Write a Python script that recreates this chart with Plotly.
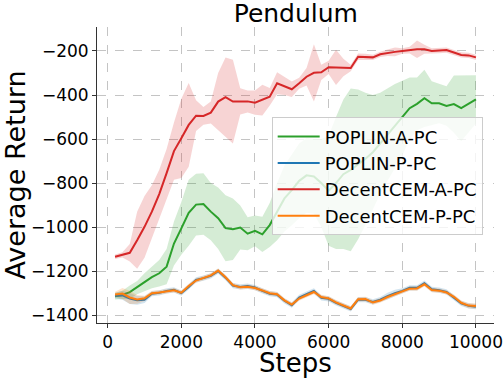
import numpy as np
import plotly.graph_objects as go

# training steps (every 200 steps)
steps = list(range(200, 10001, 200))

poplin_a_mean = [-1314, -1309, -1296, -1275, -1250, -1228, -1210, -1180, -1075, -1006,
                 -935, -898, -895, -930, -960, -1005, -1010, -1002, -1030, -1017,
                 -1033, -991, -930, -870, -832, -790, -765, -770, -800, -835,
                 -800, -760, -740, -715, -690, -660, -620, -580, -540, -505,
                 -460, -440, -415, -438, -438, -450, -441, -460, -440, -420]
poplin_a_std = [15, 20, 30, 30, 40, 50, 60, 80, 100, 120,
                150, 140, 140, 130, 140, 150, 140, 100, 75, 70,
                80, 100, 130, 150, 160, 170, 170, 170, 200, 250,
                300, 340, 370, 340, 300, 260, 230, 210, 190, 170,
                140, 120, 130, 100, 90, 90, 130, 150, 130, 110]

poplin_p_mean = [-1312, -1310, -1325, -1333, -1330, -1303, -1299, -1290, -1285, -1300,
                 -1272, -1240, -1232, -1222, -1200, -1230, -1266, -1272, -1268, -1275,
                 -1290, -1303, -1307, -1335, -1355, -1320, -1305, -1290, -1322, -1326,
                 -1345, -1358, -1372, -1330, -1330, -1340, -1330, -1314, -1300, -1290,
                 -1276, -1276, -1255, -1283, -1287, -1295, -1320, -1347, -1358, -1362]
poplin_p_std = [12, 20, 25, 20, 15, 12, 12, 12, 12, 12,
                12, 12, 12, 12, 12, 12, 12, 12, 12, 12,
                12, 12, 12, 12, 12, 12, 12, 12, 12, 12,
                12, 12, 12, 12, 12, 12, 12, 15, 15, 12,
                12, 12, 12, 12, 12, 12, 12, 12, 12, 12]

decent_a_mean = [-1135, -1126, -1117, -1060, -999, -930, -850, -755, -655, -597,
                 -536, -494, -495, -480, -430, -410, -430, -429, -429, -435,
                 -423, -408, -347, -360, -374, -347, -317, -299, -297, -274,
                 -274, -275, -277, -226, -227, -229, -215, -208, -204, -200,
                 -196, -192, -192, -200, -198, -196, -207, -218, -220, -229]
decent_a_std = [10, 12, 40, 130, 140, 120, 110, 110, 130, 180,
                190, 70, 40, 50, 130, 180, 190, 60, 50, 55,
                70, 40, 50, 40, 35, 25, 40, 130, 35, 30,
                80, 40, 15, 15, 15, 12, 12, 15, 20, 12,
                15, 40, 20, 12, 12, 12, 12, 12, 12, 12]

decent_p_mean = [-1306, -1302, -1320, -1329, -1324, -1301, -1297, -1292, -1287, -1298,
                 -1268, -1243, -1230, -1220, -1198, -1228, -1264, -1274, -1271, -1277,
                 -1288, -1301, -1305, -1333, -1352, -1325, -1310, -1295, -1318, -1324,
                 -1342, -1356, -1370, -1328, -1327, -1343, -1334, -1318, -1305, -1294,
                 -1280, -1279, -1260, -1286, -1289, -1297, -1317, -1344, -1357, -1359]
decent_p_std = [12, 25, 30, 20, 12, 10, 10, 10, 10, 10,
                10, 10, 10, 10, 10, 10, 10, 10, 10, 10,
                10, 10, 10, 10, 10, 10, 10, 10, 10, 10,
                10, 10, 10, 10, 10, 10, 10, 10, 10, 10,
                10, 10, 10, 10, 10, 10, 10, 10, 12, 12]

series = [
    ("POPLIN-A-PC", poplin_a_mean, poplin_a_std, "#2ca02c", "rgba(44,160,44,0.2)"),
    ("POPLIN-P-PC", poplin_p_mean, poplin_p_std, "#1f77b4", "rgba(31,119,180,0.2)"),
    ("DecentCEM-A-PC", decent_a_mean, decent_a_std, "#d62728", "rgba(214,39,40,0.2)"),
    ("DecentCEM-P-PC", decent_p_mean, decent_p_std, "#ff7f0e", "rgba(255,127,14,0.2)"),
]

fig = go.Figure()
for name, mean, std, color, fill in series:
    m = np.array(mean)
    s = np.array(std)
    fig.add_trace(go.Scatter(x=steps, y=m + s, mode="lines", line=dict(width=0),
                             showlegend=False, hoverinfo="skip"))
    fig.add_trace(go.Scatter(x=steps, y=m - s, mode="lines", line=dict(width=0),
                             fill="tonexty", fillcolor=fill,
                             showlegend=False, hoverinfo="skip"))
    fig.add_trace(go.Scatter(x=steps, y=m, mode="lines", name=name,
                             line=dict(color=color, width=2)))

axis_style = dict(
    showgrid=True, gridcolor="#c4c4c4", griddash="dash", gridwidth=1,
    zeroline=False, showline=True, linecolor="#333333", linewidth=1,
    ticks="outside", ticklen=4, tickcolor="#333333",
    tickfont=dict(size=17, color="black"), mirror=False, automargin=False,
)

fig.update_layout(
    width=504, height=378,
    margin=dict(l=97, r=10, t=27, b=55),
    paper_bgcolor="white", plot_bgcolor="white",
    font=dict(family="DejaVu Sans", color="black"),
    title=dict(text="Pendulum", x=0.587, xanchor="center", y=0.965, yanchor="middle",
               font=dict(size=25)),
    xaxis=dict(axis_style, range=[-290, 10490], tickvals=[0, 2000, 4000, 6000, 8000, 10000],
               tickformat="d"),
    yaxis=dict(axis_style, range=[-1436, -91], tickvals=[-1400, -1200, -1000, -800, -600, -400, -200],
               title=dict(text="Average Return", font=dict(size=27))),
    legend=dict(x=0.44, y=0.695, xanchor="left", yanchor="top", traceorder="normal",
                bgcolor="rgba(255,255,255,0.8)", bordercolor="#cccccc", borderwidth=1,
                font=dict(size=18), tracegroupgap=0, itemwidth=42),
)

# x axis title placed a little lower than plotly's default spot
fig.add_annotation(text="Steps", xref="paper", yref="paper", x=0.5, y=-0.136,
                   xanchor="center", yanchor="middle", showarrow=False,
                   font=dict(size=26))

# drop the browser's default page margin so the figure sits at the window corner
fig.write_html("out.html", config={"displayModeBar": False},
               post_script="document.body.style.margin='0';")
